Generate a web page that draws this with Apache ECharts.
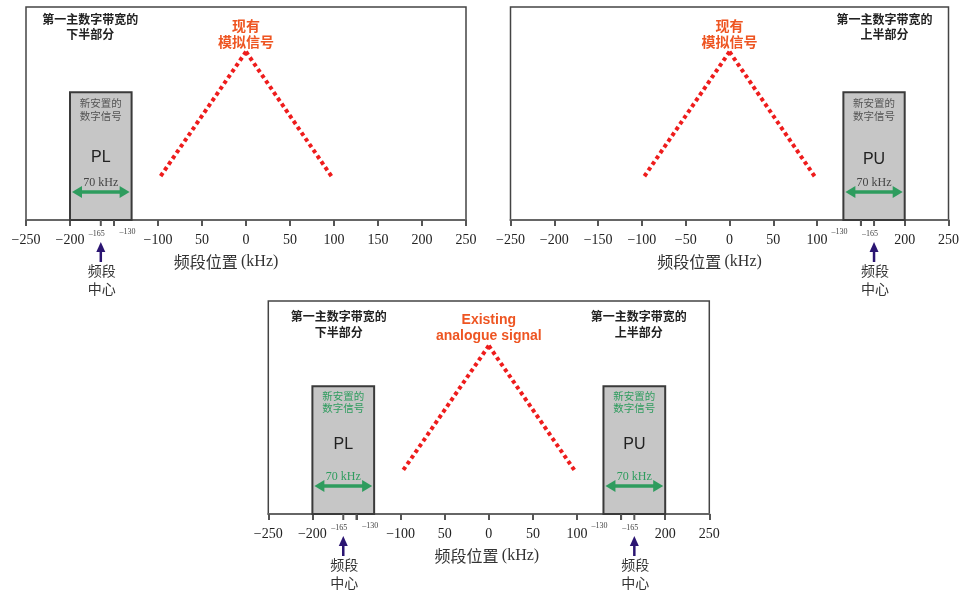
<!DOCTYPE html>
<html><head><meta charset="utf-8">
<script src="https://cdn.jsdelivr.net/npm/echarts@6/dist/echarts.min.js"></script>
<style>html,body{margin:0;padding:0;background:#fff}#c{width:962px;height:591px}</style>
</head><body><div id="c"></div>
<script>
// ---------------- data ----------------
const xTicks = [-250, -200, -150, -100, -50, 0, 50, 100, 150, 200, 250];
const tickLabelsTopLeft  = ['−250', '−200', '', '−100', '50', '0', '50', '100', '150', '200', '250'];
const tickLabelsTopRight = ['−250', '−200', '−150', '−100', '−50', '0', '50', '100', '', '200', '250'];
const tickLabelsBottom   = ['−250', '−200', '', '−100', '50', '0', '50', '100', '', '200', '250'];

const analogFreq  = [-98, 0, 98];
const analogLevel = [20, 79, 20];
const analogTextZh = ['现有', '模拟信号'];
const analogTextEn = ['Existing', 'analogue signal'];

const bandNames       = ['PL', 'PU'];
const bandEdges       = [[-200, -130], [130, 200]];
const bandCentres     = [-165, 165];
const bandTopLevel    = 60;
const bandMinorTicks  = [[-165, -150], [150, 165]];
const bandTickValues  = [[-165, -130], [130, 165]];
const bandTickTexts   = [['–165', '–130'], ['–130', '–165']];
const bandHalfTitles  = [['第一主数字带宽的', '下半部分'], ['第一主数字带宽的', '上半部分']];
const bandDesc        = ['新安置的', '数字信号'];
const bandWidthText   = '70 kHz';
const centreText      = ['频段', '中心'];
const axisTitle       = '频段位置';
const axisUnit        = '(kHz)';

// ---------------- styles / layout ----------------
const GREEN = '#2e9c5e', PURPLE = '#2b1572', RED = '#ee1c1c', ORANGE = '#ee5522';
const panels = [
  { grid: {left: 26, top: 7, width: 440, height: 213}, ticks: tickLabelsTopLeft, bands: [0],
    analog: analogTextZh, analogFont: "bold 14px 'Noto Sans CJK SC'", boxText: '#555', khzText: '#444',
    nameShift: 20, titleX: [-177, 177], titleY: [12, 27], descY: [11, 24], nameUp: 62 },
  { grid: {left: 510.5, top: 7, width: 441, height: 213}, ticks: tickLabelsTopRight, bands: [1],
    analog: analogTextZh, analogFont: "bold 14px 'Noto Sans CJK SC'", boxText: '#555', khzText: '#444',
    nameShift: 20, titleX: [-177, 177], titleY: [12, 27], descY: [11, 24], nameUp: 60 },
  { grid: {left: 268.3, top: 301, width: 441, height: 213}, ticks: tickLabelsBottom, bands: [0, 1],
    analog: analogTextEn, analogFont: "bold 14px 'Liberation Sans'", boxText: GREEN, khzText: GREEN,
    nameShift: 2, titleX: [-170, 170], titleY: [15, 31], descY: [10, 21.5], nameUp: 69 }
];

const chart = echarts.init(document.getElementById('c'), null, {renderer: 'canvas'});

// the analogue signal is drawn as two legs starting from the peak so the dotting meets at the apex
const analogPoints = analogFreq.map((f, k) => [f, analogLevel[k]]);
const analogLegs = [[analogPoints[1], analogPoints[0]], [analogPoints[1], analogPoints[2]]];

const grids = [], xAxes = [], yAxes = [], series = [];
panels.forEach((p, i) => {
  grids.push(Object.assign({show: true, borderColor: '#444', borderWidth: 1.5, backgroundColor: '#fff'}, p.grid));
  xAxes.push({
    type: 'value', gridIndex: i, min: -250, max: 250, interval: 50,
    splitLine: {show: false},
    axisLine: {onZero: false, lineStyle: {color: '#666', width: 2}},
    axisTick: {show: true, length: 6, lineStyle: {color: '#555', width: 2}},
    axisLabel: {
      margin: 13, color: '#222', fontFamily: 'Liberation Serif', fontSize: 14,
      formatter: v => { const k = xTicks.indexOf(v); return k >= 0 ? p.ticks[k] : ''; }
    },
    name: '{a|' + axisTitle + '} {b|' + axisUnit + '}',
    nameLocation: 'middle', nameGap: 34,
    nameTextStyle: {
      padding: [0, p.nameShift * 2, 0, 0],
      rich: {
        a: {fontFamily: 'Noto Sans CJK SC', fontSize: 16, color: '#333'},
        b: {fontFamily: 'Liberation Serif', fontSize: 16, color: '#333'}
      }
    }
  });
  yAxes.push({type: 'value', gridIndex: i, min: 0, max: 100, show: false});

  // analogue signal (dotted triangle)
  analogLegs.forEach(leg => series.push({
    type: 'line', xAxisIndex: i, yAxisIndex: i, symbol: 'none', silent: true, z: 3,
    data: leg,
    lineStyle: {color: RED, width: 4, type: [3.8, 3.2], cap: 'butt', join: 'round'}
  }));

  // annotations: bands, arrows, labels
  series.push({
    type: 'custom', xAxisIndex: i, yAxisIndex: i, clip: false, silent: true, z: 4,
    data: [[0, 0]],
    renderItem: (params, api) => {
      const ch = [];
      const axisY = api.coord([0, 0])[1];
      const topY = api.coord([0, 100])[1];
      const txt = (x, y, text, font, fill) => ch.push({type: 'text', style: {x, y, text, font, fill, align: 'center', verticalAlign: 'middle'}});

      // analogue label above peak
      const peak = api.coord([analogFreq[1], analogLevel[1]]);
      txt(peak[0], peak[1] - 26, p.analog[0], p.analogFont, ORANGE);
      txt(peak[0], peak[1] - 10, p.analog[1], p.analogFont, ORANGE);

      p.bands.forEach(b => {
        const x1 = api.coord([bandEdges[b][0], 0])[0];
        const x2 = api.coord([bandEdges[b][1], 0])[0];
        const yTop = api.coord([0, bandTopLevel])[1];
        const xm = (x1 + x2) / 2;
        const xc = api.coord([bandCentres[b], 0])[0];

        // title in upper corner
        const tx = api.coord([p.titleX[b], 0])[0];
        txt(tx, topY + p.titleY[0], bandHalfTitles[b][0], "bold 12px 'Noto Sans CJK SC'", '#222');
        txt(tx, topY + p.titleY[1], bandHalfTitles[b][1], "bold 12px 'Noto Sans CJK SC'", '#222');

        // band box
        ch.push({type: 'rect', shape: {x: x1, y: yTop, width: x2 - x1, height: axisY - yTop},
                 style: {fill: '#c6c6c6', stroke: '#3a3a3a', lineWidth: 2}});
        txt(xm, yTop + p.descY[0], bandDesc[0], "10.5px 'Noto Sans CJK SC'", p.boxText);
        txt(xm, yTop + p.descY[1], bandDesc[1], "10.5px 'Noto Sans CJK SC'", p.boxText);
        txt(xm, axisY - p.nameUp, bandNames[b], "16px 'Liberation Sans'", '#222');
        txt(xm, axisY - 37, bandWidthText, "12px 'Liberation Serif'", p.khzText);

        // 70 kHz double arrow
        const ay = axisY - 28, ax1 = x1 + 2, ax2 = x2 - 2, hl = 10, hh = 6;
        ch.push({type: 'line', shape: {x1: ax1 + hl - 1, y1: ay, x2: ax2 - hl + 1, y2: ay}, style: {stroke: GREEN, lineWidth: 3.5}});
        ch.push({type: 'polygon', shape: {points: [[ax1, ay], [ax1 + hl, ay - hh], [ax1 + hl, ay + hh]]}, style: {fill: GREEN}});
        ch.push({type: 'polygon', shape: {points: [[ax2, ay], [ax2 - hl, ay - hh], [ax2 - hl, ay + hh]]}, style: {fill: GREEN}});

        // minor ticks inside band
        bandMinorTicks[b].forEach(v => {
          const x = api.coord([v, 0])[0];
          ch.push({type: 'line', shape: {x1: x, y1: axisY, x2: x, y2: axisY + 6}, style: {stroke: '#555', lineWidth: 2}});
        });
        // small tick labels
        bandTickValues[b].forEach((v, k) => {
          const x = api.coord([v, 0])[0] - 4;
          const dy = Math.abs(v) === 165 ? 13.5 : 11.5;
          txt(x, axisY + dy, bandTickTexts[b][k], "8px 'Liberation Serif'", '#444');
        });

        // band centre arrow
        ch.push({type: 'line', shape: {x1: xc, y1: axisY + 42, x2: xc, y2: axisY + 30}, style: {stroke: PURPLE, lineWidth: 2.5}});
        ch.push({type: 'polygon', shape: {points: [[xc, axisY + 22], [xc - 4.5, axisY + 32], [xc + 4.5, axisY + 32]]}, style: {fill: PURPLE}});
        txt(xc + 1, axisY + 51, centreText[0], "14px 'Noto Sans CJK SC'", '#333');
        txt(xc + 1, axisY + 69, centreText[1], "14px 'Noto Sans CJK SC'", '#333');
      });
      return {type: 'group', children: ch};
    }
  });
});

chart.setOption({
  animation: false,
  backgroundColor: '#fff',
  grid: grids, xAxis: xAxes, yAxis: yAxes, series: series
});
</script>
</body></html>
